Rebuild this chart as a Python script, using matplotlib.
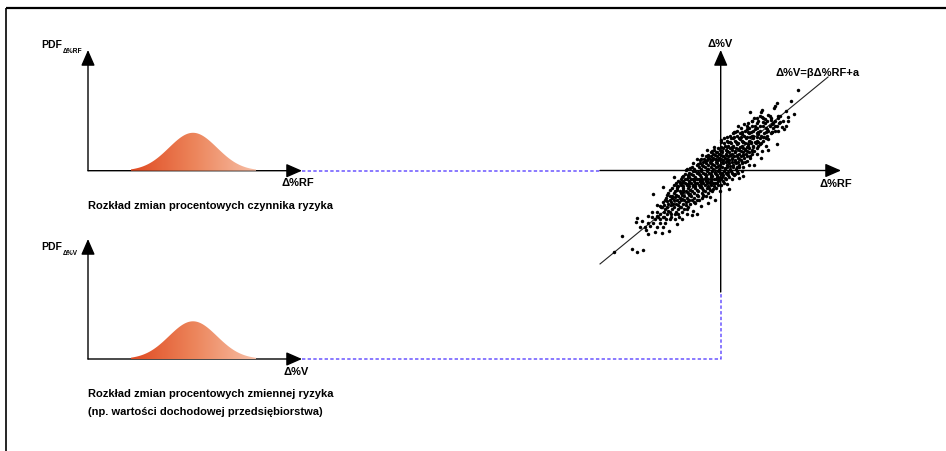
import numpy as np
import matplotlib.pyplot as plt
from matplotlib.colors import LinearSegmentedColormap

plt.rcParams['font.family'] = ['Liberation Sans', 'DejaVu Sans']

W, H = 946, 452

# rozkłady (jednostki: odchylenia standardowe)
pdf_mean = 0.0
pdf_sd = 1.0
pdf_xlim = (-4.375, 4.54)
pdf_ylim = (0.0, 1.27)

# regresja: Δ%V = β·Δ%RF + a
beta = 0.82
alpha = 15.0
line_x = [-362, 322]

# chmura punktów (Δ%RF, Δ%V)
cloud = [
    (231, 240), (210, 208), (168, 201), (163, 193), (159, 187), (123, 180), (120, 175),
    (88, 173), (195, 176), (219, 168), (203, 158), (178, 161), (201, 146), (197, 133),
    (189, 123), (170, 78), (141, 60), (120, 35), (99, 15), (85, 15), (68, -19), (55, -23),
    (25, -57), (69, 138), (93, 148), (108, 155), (143, 165), (151, 151), (128, 145),
    (163, 133), (178, 143), (183, 128), (171, 118), (153, 113), (138, 123), (118, 133),
    (103, 123), (83, 113), (63, 108), (43, 113), (38, 95), (58, 93), (78, 98), (93, 103),
    (113, 108), (128, 98), (143, 93), (135, 73), (118, 78), (103, 83), (83, 78), (68, 83),
    (48, 78), (28, 83), (13, 73), (1, 91), (18, 58), (33, 68), (53, 63), (73, 63), (93, 58),
    (108, 48), (88, 41), (68, 45), (48, 43), (28, 45), (8, 41), (-12, 53), (-27, 58),
    (-37, 43), (-17, 33), (3, 23), (23, 28), (43, 25), (63, 23), (78, 28), (68, 8), (48, 8),
    (28, 11), (13, 5), (-7, 11), (-27, 18), (-47, 28), (-59, 33), (-67, 18), (-52, 11),
    (-37, 3), (-17, -5), (3, -9), (23, -7), (43, -12), (33, -27), (13, -25), (-7, -22),
    (-27, -17), (-47, -12), (-67, -7), (-82, -2), (-92, 5), (-105, 1), (-112, -17),
    (-97, -22), (-77, -27), (-57, -32), (-37, -37), (-17, -39), (1, -45), (18, -42),
    (-2, -62), (-22, -57), (-42, -55), (-62, -52), (-82, -47), (-102, -42), (-122, -37),
    (-132, -47), (-140, -22), (-172, -52), (-202, -72), (-112, -65), (-92, -72), (-72, -75),
    (-52, -77), (-32, -82), (-17, -89), (-37, -99), (-59, -107), (-77, -99), (-97, -92),
    (-117, -87), (-137, -82), (-152, -77), (-162, -92), (-142, -102), (-122, -112),
    (-102, -117), (-82, -122), (-72, -132), (-87, -135), (-117, -147), (-132, -162),
    (-137, -132), (-157, -122), (-177, -112), (-182, -107), (-192, -137), (-207, -127),
    (-217, -137), (-172, -142), (-152, -147), (-155, -182), (-177, -189), (-197, -187),
    (-212, -167), (-224, -179), (-217, -192), (-237, -152), (-250, -143), (-254, -157),
    (-242, -172), (-297, -199), (-267, -236), (-251, -245), (-232, -239), (-319, -247),
    (53, 133), (78, 123), (93, 133), (123, 158), (133, 153), (188, 148), (153, 138),
    # gęsty środek
    (23, 73), (38, 73), (63, 73), (81, 73), (98, 73), (113, 73),
    (3, 58), (18, 58), (43, 58), (61, 58), (78, 58), (101, 58), (123, 58),
    (-22, 48), (-5, 48), (15, 48), (35, 48), (55, 48), (75, 48), (95, 48),
    (-37, 35), (-22, 35), (-5, 35), (13, 35), (33, 35), (51, 35), (71, 35), (88, 35),
    (-52, 23), (-32, 23), (-15, 23), (15, 23), (35, 23), (53, 23), (73, 23),
    (-72, 15), (-55, 15), (-39, 15), (-21, 15), (-2, 15), (18, 15), (38, 15), (55, 15),
    (-77, -2), (-59, -2), (-42, -2), (-25, -2), (-7, -2), (11, -2), (31, -2), (48, -2), (63, -2),
    (-99, -15), (-82, -15), (-62, -15), (-45, -15), (-29, -15), (-11, -15), (7, -15), (23, -15), (41, -15),
    (-107, -27), (-89, -27), (-72, -27), (-55, -27), (-37, -27), (-21, -27), (-5, -27), (15, -27),
    (-122, -39), (-107, -39), (-89, -39), (-72, -39), (-52, -39), (-32, -39), (-12, -39), (11, -39),
    (-127, -49), (-112, -49), (-95, -49), (-77, -49), (-59, -49), (-39, -49), (-19, -49),
    (-137, -62), (-122, -62), (-105, -62), (-87, -62), (-67, -62), (-47, -62), (-27, -62),
    (-145, -77), (-127, -77), (-109, -77), (-89, -77), (-67, -77), (-45, -77),
    (-152, -89), (-132, -89), (-109, -89), (-87, -89), (-65, -89),
    (-157, -102), (-135, -102), (-112, -102), (-92, -102),
    (-167, -117), (-147, -117), (-129, -117), (-109, -117),
    (-182, -132), (-162, -132), (-149, -132), (-127, -132), (-102, -132),
    (-197, -147), (-182, -147), (-165, -147), (-137, -147),
    (-217, -159), (-202, -159), (-182, -159), (-167, -159),
    (-227, -172), (-192, -172), (-172, -172),
    (18, 88), (43, 88), (63, 88), (85, 88), (108, 88), (128, 88),
    (28, 103), (48, 103), (71, 103), (98, 103), (121, 103), (138, 103),
    (48, 118), (73, 118), (98, 118), (118, 118), (143, 118), (163, 118),
    (78, 133), (103, 133), (128, 133), (148, 133), (168, 133),
    (93, 148), (113, 148), (138, 148), (163, 148),
    (118, 163), (148, 163), (173, 163),
    # rzędy pośrednie
    (10, 80), (30, 80), (52, 80), (72, 80), (90, 80), (105, 80), (120, 80),
    (-8, 65), (8, 65), (27, 65), (47, 65), (66, 65), (86, 65), (110, 65),
    (-30, 53), (-15, 53), (5, 53), (24, 53), (44, 53), (66, 53), (84, 53),
    (-45, 41), (-28, 41), (-10, 41), (6, 41), (22, 41), (41, 41), (60, 41), (80, 41),
    (-62, 29), (-42, 29), (-25, 29), (-8, 29), (8, 29), (26, 29), (44, 29), (62, 29),
    (-85, 8), (-64, 8), (-46, 8), (-30, 8), (-14, 8), (4, 8), (20, 8), (38, 8), (56, 8),
    (-95, -8), (-72, -8), (-52, -8), (-35, -8), (-18, -8), (-1, -8), (17, -8), (35, -8), (52, -8),
    (-115, -21), (-95, -21), (-78, -21), (-60, -21), (-44, -21), (-28, -21), (-12, -21), (4, -21), (26, -21),
    (-128, -33), (-112, -33), (-96, -33), (-80, -33), (-62, -33), (-45, -33), (-28, -33), (-9, -33), (6, -33),
    (-140, -44), (-118, -44), (-100, -44), (-83, -44), (-66, -44), (-48, -44), (-28, -44), (-8, -44),
    (-147, -55), (-130, -55), (-114, -55), (-97, -55), (-78, -55), (-56, -55), (-36, -55), (-14, -55),
    (-158, -70), (-140, -70), (-118, -70), (-99, -70), (-80, -70), (-57, -70), (-38, -70),
    (-165, -83), (-145, -83), (-122, -83), (-100, -83), (-79, -83), (-56, -83),
    (-172, -95), (-150, -95), (-125, -95), (-103, -95), (-80, -95),
    (-180, -110), (-160, -110), (-140, -110), (-120, -110), (-98, -110),
    (-190, -125), (-170, -125), (-152, -125), (-135, -125), (-115, -125),
    (-205, -140), (-188, -140), (-170, -140), (-150, -140), (-125, -140),
    (10, 95), (32, 95), (55, 95), (75, 95), (96, 95), (118, 95), (135, 95),
    (38, 110), (58, 110), (84, 110), (108, 110), (130, 110), (150, 110),
    (60, 125), (85, 125), (110, 125), (135, 125), (158, 125),
    (82, 140), (108, 140), (132, 140), (156, 140), (176, 140),
    (100, 155), (126, 155), (150, 155), (172, 155),
    # dodatkowe zagęszczenie
    (-20, 70), (0, 70), (18, 70), (38, 70), (58, 70), (78, 70), (98, 70),
    (-40, 60), (-20, 60), (-2, 60), (15, 60), (35, 60), (55, 60), (72, 60), (95, 60),
    (-55, 45), (-38, 45), (-18, 45), (0, 45), (15, 45), (30, 45), (48, 45), (68, 45),
    (-70, 32), (-50, 32), (-32, 32), (-15, 32), (0, 32), (18, 32), (35, 32), (55, 32),
    (-82, 20), (-62, 20), (-45, 20), (-28, 20), (-10, 20), (8, 20), (25, 20), (45, 20), (65, 20),
    (-100, 2), (-80, 2), (-58, 2), (-40, 2), (-22, 2), (-5, 2), (12, 2), (28, 2), (45, 2),
    (-108, -12), (-88, -12), (-66, -12), (-48, -12), (-30, -12), (-14, -12), (2, -12), (20, -12), (38, -12),
    (-120, -26), (-100, -26), (-82, -26), (-64, -26), (-48, -26), (-30, -26), (-15, -26), (2, -26),
    (-135, -40), (-115, -40), (-96, -40), (-78, -40), (-60, -40), (-42, -40), (-22, -40),
    (-152, -60), (-132, -60), (-112, -60), (-92, -60), (-72, -60), (-52, -60), (-32, -60),
    (-160, -75), (-135, -75), (-115, -75), (-95, -75), (-72, -75), (-52, -75),
    (-168, -90), (-140, -90), (-118, -90), (-95, -90), (-72, -90),
    (-190, -105), (-170, -105), (-148, -105), (-128, -105), (-105, -105),
    (0, 85), (22, 85), (45, 85), (68, 85), (90, 85), (112, 85),
    (20, 100), (40, 100), (62, 100), (88, 100), (110, 100), (130, 100),
    (40, 115), (65, 115), (90, 115), (112, 115), (135, 115), (155, 115),
]

caption_rf = 'Rozkład zmian procentowych czynnika ryzyka'
caption_v = ['Rozkład zmian procentowych zmiennej ryzyka',
             '(np. wartości dochodowej przedsiębiorstwa)']

AX_COL = '#4a4a4a'
DASH_COL = '#6a55ff'
FS = 8


def px_axes(fig, x0, y0, x1, y1):
    # osie umieszczone w prostokącie podanym w pikselach (y od góry)
    a = fig.add_axes([x0 / W, (H - y1) / H, (x1 - x0) / W, (y1 - y0) / H])
    a.axis('off')
    return a


def arrow(ax, start, tip):
    ax.annotate('', xy=tip, xytext=start,
                arrowprops=dict(arrowstyle='-|>,head_length=0.8,head_width=0.35',
                                color=AX_COL, fc='black', ec='black', lw=1.0,
                                mutation_scale=12, shrinkA=0, shrinkB=0))


def pdf_label(ax, x, y, sub):
    t = ax.text(x, y, 'PDF', fontsize=7.5, fontweight='bold', va='baseline')
    ax.annotate(sub, xy=(1, 0), xycoords=t, xytext=(0.3, -2.2),
                textcoords='offset points', fontsize=4.8, fontweight='bold',
                va='baseline')


def draw_pdf(fig, x0, y_top, x1, y_base):
    pa = px_axes(fig, x0, y_top, x1, y_base)
    pa.set_xlim(*pdf_xlim)
    pa.set_ylim(*pdf_ylim)
    xs = np.linspace(-4, 4, 300)
    ys = np.exp(-0.5 * ((xs - pdf_mean) / pdf_sd) ** 2) / (pdf_sd * np.sqrt(2 * np.pi))
    poly = pa.fill_between(xs, 0, ys, color='none', lw=0)
    cmap = LinearSegmentedColormap.from_list('pdf', ['#e04a22', '#ec845a', '#f7bea5'])
    grad = np.linspace(0, 1, 256).reshape(1, -1)
    im = pa.imshow(grad, cmap=cmap, extent=(-2.6, 2.6, 0, 0.42), aspect='auto', zorder=1)
    im.set_clip_path(poly.get_paths()[0], transform=pa.transData)
    return pa


fig = plt.figure(figsize=(W / 100, H / 100), dpi=100)
ax = px_axes(fig, 0, 0, W, H)
ax.set_xlim(0, W)
ax.set_ylim(H, 0)

# ramka
ax.plot([5.5, W], [9, 9], color='black', lw=1.6, solid_capstyle='butt')
ax.plot([5.8, 5.8], [9, H], color='black', lw=1.2, solid_capstyle='butt')

# panel 1
draw_pdf(fig, 88, 51, 302, 171.7)
arrow(ax, (88, 171.7), (88, 51))
arrow(ax, (88, 171.7), (302, 171.7))
pdf_label(ax, 41, 48, 'Δ%RF')
ax.text(298, 183, 'Δ%RF', fontsize=FS, fontweight='bold', ha='center', va='center')
ax.text(88, 206, caption_rf, fontsize=FS, fontweight='bold', va='center')

# panel 2
draw_pdf(fig, 88, 240, 302, 360)
arrow(ax, (88, 360), (88, 240))
arrow(ax, (88, 360), (302, 360))
pdf_label(ax, 41, 250, 'Δ%V')
ax.text(296, 372, 'Δ%V', fontsize=FS, fontweight='bold', ha='center', va='center')
ax.text(88, 394, caption_v[0], fontsize=FS, fontweight='bold', va='center')
ax.text(88, 412, caption_v[1], fontsize=FS, fontweight='bold', va='center')

# linie łączące
ax.plot([302, 600], [171.7, 171.7], color=DASH_COL, lw=1.1, dashes=(2.2, 1.5))
ax.plot([302, 720.7, 720.7], [360, 360, 293], color=DASH_COL, lw=1.1, dashes=(2.2, 1.5))

# układ rozproszenia
arrow(ax, (600, 171.5), (841, 171.5))
arrow(ax, (720.7, 293), (720.7, 51))
ax.text(720, 44, 'Δ%V', fontsize=FS, fontweight='bold', ha='center', va='center')
ax.text(836, 184, 'Δ%RF', fontsize=FS, fontweight='bold', ha='center', va='center')
ax.text(775, 73, 'Δ%V=βΔ%RF+a', fontsize=FS, fontweight='bold', va='center')

sa = px_axes(fig, 590, 40, 850, 370)
sa.set_xlim((590 - 720.7) * 3, (850 - 720.7) * 3)
sa.set_ylim((171 - 370) * 3, (171 - 40) * 3)
pts = np.array(cloud)
lx = np.array(line_x)
sa.plot(lx, beta * lx + alpha, color='#222222', lw=0.8)
sa.plot(pts[:, 0], pts[:, 1], 'o', ms=2.5, color='black', mec='none')

fig.savefig('out.png', dpi=100)
